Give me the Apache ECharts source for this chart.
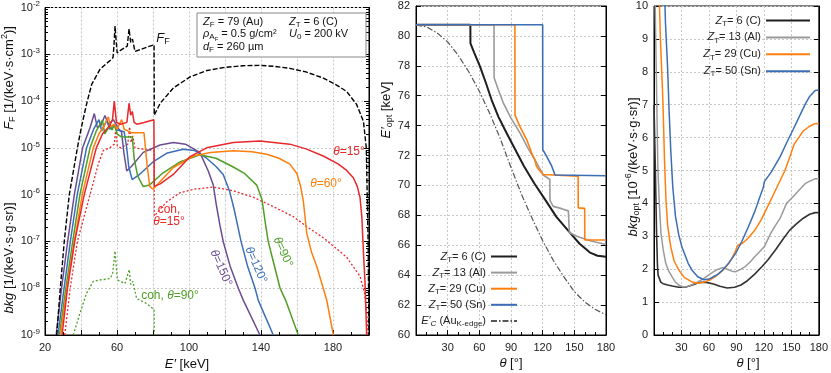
<!DOCTYPE html>
<html><head><meta charset="utf-8">
<script src="https://cdn.jsdelivr.net/npm/echarts@6/dist/echarts.min.js"></script>
<style>html,body{margin:0;padding:0;background:#fff}#c{width:831px;height:373px}</style>
</head><body><div id="c"></div>
<script>
// ---------- Panel 1: spectra [E' keV, value] ----------
const ffSpectrum = [[26.5,1e-9],[28.5,1e-8],[30.7,1e-7],[33.5,1e-6],[38,1e-5],[39.8,2.3e-5],[41.7,5e-5],[43.5,1e-4],[46,2.3e-4],[50.6,4.8e-4],[54,6.3e-4],[56.8,7.7e-4],[57.8,8.5e-4],[58.3,1.5e-3],[58.9,4e-3],[59.5,2e-3],[60.1,1.07e-3],[61.7,1.2e-3],[65.7,1.5e-3],[66.7,3.5e-3],[67.6,1.8e-3],[68.6,2.1e-3],[70,1.15e-3],[78.3,1.5e-3],[80.6,1.6e-3],[80.7,5e-5],[84,9e-5],[91.3,1.9e-4],[100.6,3.3e-4],[110,4.5e-4],[119,5.2e-4],[130,5.7e-4],[139.4,5.8e-4],[148,5.5e-4],[156,5e-4],[165,4.2e-4],[174.6,3.1e-4],[182,2.2e-4],[187.6,1.6e-4],[193.1,8.5e-5],[196.9,3.7e-5],[198.5,1e-5],[199.5,1e-7],[200,1e-9]];
const bkg15 = [[29.5,1e-9],[32.5,1e-8],[36.5,1e-7],[41.8,1e-6],[48.5,1e-5],[52,2e-5],[56,3e-5],[57.5,4e-5],[58.5,1e-4],[59.7,3.5e-5],[62,3.2e-5],[65.5,3.5e-5],[66.7,9e-5],[67.6,5e-5],[68.5,6e-5],[69.5,3.5e-5],[71,3.2e-5],[75,3.5e-5],[80.5,4e-5],[80.7,1.5e-6],[84,1.7e-6],[91.3,2.7e-6],[100.6,6.5e-6],[109.8,1e-5],[124.6,1.3e-5],[139.4,1.4e-5],[156,1.2e-5],[165,9.5e-6],[174.6,6.7e-6],[183,4.5e-6],[187.6,3.3e-6],[191.3,2.3e-6],[193.5,1.5e-6],[195,8.8e-7],[196,3.4e-7],[197,5e-8],[197.8,1.3e-8],[198.7,1e-9]];
const bkg60 = [[28.7,1e-9],[32.2,1e-8],[36.3,1e-7],[40.7,1e-6],[46.8,1e-5],[50,2e-5],[53,3e-5],[55.2,4.6e-5],[56.3,2.8e-5],[58.5,3.2e-5],[60,2.5e-5],[62.6,4e-5],[64,2.5e-5],[66,2.3e-5],[68,2.1e-5],[75,2.1e-5],[75.8,1e-5],[76.8,4e-6],[78.2,1.5e-6],[80,1.3e-6],[84,1.9e-6],[91.3,3.8e-6],[102.4,6.7e-6],[112,8e-6],[124.6,8.7e-6],[135,8.3e-6],[143.2,7.3e-6],[150,6e-6],[156,4.5e-6],[160,2.8e-6],[162,1.5e-6],[163.5,7.4e-7],[165.4,1.5e-7],[168,6e-8],[171,2.9e-8],[176.5,5.6e-9],[180.2,1e-9]];
const bkg90 = [[28,1e-9],[31.6,1e-8],[35.4,1e-7],[39.4,1e-6],[45,1e-5],[48.5,2.3e-5],[51.9,3.9e-5],[53.2,2e-5],[56.1,3e-5],[57.3,2.4e-5],[58.5,3.2e-5],[60,2e-5],[62.6,1.7e-5],[68.5,1.7e-5],[69.5,6e-6],[71.5,2.5e-6],[74.5,1.5e-6],[78,1.6e-6],[85,2.8e-6],[95,5e-6],[106,7.1e-6],[115,6e-6],[124.6,3.9e-6],[131,2.8e-6],[137.6,1.6e-6],[140.5,8e-7],[142.6,2.2e-7],[144,1e-7],[147,3.5e-8],[150.6,1e-8],[153.7,5.5e-9],[160.7,1e-9]];
const bkg120 = [[27.2,1e-9],[30.6,1e-8],[34.1,1e-7],[37.9,1e-6],[43.1,1e-5],[47,2.5e-5],[50,4e-5],[51.5,2.3e-5],[54.3,3.9e-5],[56,2.5e-5],[58.5,3e-5],[60,2.4e-5],[64,2.2e-5],[65.4,1e-5],[66.5,4e-6],[68.4,2.1e-6],[72,2.6e-6],[80,5e-6],[88,7.8e-6],[96.8,9.3e-6],[103,8.8e-6],[109.8,6e-6],[115,4e-6],[119,2.7e-6],[122.5,1.2e-6],[125,5e-7],[127,2.2e-7],[128.9,1e-7],[132.5,3e-8],[136.7,1e-8],[138.5,5.5e-9],[146.8,1e-9]];
const bkg150 = [[26.2,1e-9],[29.2,1e-8],[32.6,1e-7],[36.3,1e-6],[40.9,1e-5],[45,2.7e-5],[47.4,5.4e-5],[49.1,2.7e-5],[51,3e-5],[53.3,4.9e-5],[55.2,3.2e-5],[58,4e-5],[60.7,2.6e-5],[62.5,2.2e-5],[63.8,8e-6],[65.4,3.2e-6],[68,4e-6],[74.6,8e-6],[83.9,1.15e-5],[91.3,1.3e-5],[98,1.2e-5],[106,8e-6],[110.7,3.2e-6],[113.5,1.6e-6],[115.2,6e-7],[117.2,2.2e-7],[119,1e-7],[122.8,3e-8],[127.4,1e-8],[130.2,5.5e-9],[139.4,1e-9]];
const coh15 = [[31,1e-9],[34,1e-8],[38,1e-7],[45,1e-6],[49.6,4.5e-6],[52.4,8.8e-6],[56,1e-5],[58.5,1.2e-5],[59.3,2.5e-5],[60.2,1.1e-5],[62,1e-5],[66,1.2e-5],[67,2.8e-5],[67.8,1.3e-5],[68.8,1.8e-5],[70,1e-5],[75,9.3e-6],[80.6,8.8e-6],[80.7,3.5e-7],[87.6,7e-7],[95,1.1e-6],[102.4,1.3e-6],[113.5,1.45e-6],[125,1.2e-6],[135.7,8.8e-7],[147,5.5e-7],[157.9,3.4e-7],[166,2e-7],[174.6,1.2e-7],[181,7.5e-8],[187.6,4.6e-8],[195,1.8e-8],[197.5,8e-9],[198.7,3e-9],[199.5,1e-9]];
const coh90 = [[35.7,1e-9],[39.4,2.9e-9],[43.1,7.8e-9],[46.8,1.4e-8],[50.6,1.5e-8],[56.1,1.6e-8],[57.5,2e-8],[58.9,6.2e-8],[60.2,1.5e-8],[64.4,1.26e-8],[66.8,2.5e-8],[67.6,1.2e-8],[68.8,1.4e-8],[70.9,6e-9],[76.5,4.7e-9],[80.6,3.5e-9],[80.7,1e-9]];

// ---------- Panel 2: E'opt vs theta ----------
const eoptC  = [[0,80.75],[51.5,80.75],[51.6,79.5],[55,78.9],[60.6,77.96],[66,76.9],[71.6,75.73],[78,74.6],[85.8,73.51],[94,72.4],[102.3,71.29],[112,70.15],[122.2,69.07],[133,67.9],[145.8,66.84],[155,66.1],[164.8,65.51],[172,65.3],[180,65.24]];
const eoptAl = [[0,80.75],[73.9,80.75],[74,77.2],[78,76.4],[82.8,75.5],[90,74.5],[98.6,73.5],[106,72.5],[114.4,71.5],[120.5,70.7],[126.8,70.4],[126.9,69.0],[130,68.6],[138,68.45],[144.3,68.3],[145.2,68.2],[145.3,66.85],[152.3,66.6],[165,66.3],[180,66.05]];
const eoptCu = [[0,80.75],[93.7,80.75],[93.8,74.7],[98,74.0],[104.8,73.07],[110,72.1],[112.5,71.75],[114,71.3],[117,71.0],[120.5,70.73],[122,70.62],[153.6,70.62],[153.7,68.5],[159.8,68.47],[159.9,66.35],[180,66.35]];
const eoptSn = [[0,80.75],[120,80.75],[120.1,72.4],[123.8,71.95],[128.6,71.29],[131.7,70.7],[180,70.65]];
const eComptonEdge = [[0,80.73],[10,80.6],[20,80.2],[30,79.6],[40,78.7],[50,77.6],[60,76.3],[70,74.8],[80,73.1],[90,71.2],[100,69.4],[110,67.8],[120,66.3],[130,65.0],[140,63.9],[150,62.9],[160,62.2],[170,61.7],[180,61.35]];

// ---------- Panel 3: bkg_opt vs theta ----------
const bkgOptC  = [[0,7.0],[1.5,5.0],[2.8,3.1],[3.8,2.1],[4.5,1.82],[6.2,1.78],[7.5,1.6],[10,1.56],[15,1.52],[20,1.49],[27,1.45],[34,1.45],[42,1.52],[50,1.6],[57,1.6],[65,1.55],[72,1.48],[80,1.43],[88,1.45],[95,1.52],[102,1.65],[110,1.85],[118,2.08],[124.3,2.28],[133,2.6],[141.6,2.94],[148,3.18],[155.5,3.38],[163,3.55],[170,3.67],[176,3.72],[180,3.72]];
const bkgOptAl = [[1.0,10.5],[2.5,8],[4.2,5.1],[5.8,4],[7.6,3.1],[10,2.6],[12.8,2.18],[16,1.95],[19.8,1.77],[23,1.62],[26.7,1.52],[31.9,1.46],[36,1.47],[40.6,1.52],[47,1.6],[54.5,1.72],[61,1.85],[68.3,1.98],[75.3,2.05],[80,2.0],[85,1.94],[89.2,1.92],[95,2.0],[99.6,2.08],[105,2.22],[110,2.38],[115,2.52],[120.4,2.68],[127.4,3.09],[132,3.3],[137.8,3.55],[144.7,4.0],[150,4.15],[158.6,4.41],[165,4.6],[169,4.66],[175,4.74],[180,4.76]];
const bkgOptCu = [[5.5,10.5],[7,9],[9.7,7.14],[11.5,5.3],[13.1,4.1],[15,3.3],[18.3,2.68],[22,2.25],[27,1.98],[33,1.75],[40.9,1.62],[47.8,1.57],[54,1.6],[61.7,1.68],[68,1.8],[75.5,1.98],[81,2.15],[86,2.38],[89,2.55],[91.1,2.72],[96.3,2.78],[103,2.95],[110.2,3.19],[117,3.5],[124.1,3.9],[131,4.3],[138,4.71],[143,5.0],[148.4,5.42],[153,5.8],[158.8,6.03],[163,6.2],[169.2,6.33],[175,6.42],[180,6.43]];
const bkgOptSn = [[11.5,10.5],[12.5,9.5],[14.8,8.16],[16.5,6.8],[18.3,5.62],[20.5,4.5],[23.5,3.6],[27,3.05],[30.4,2.68],[37.3,2.18],[42,1.95],[47.8,1.77],[54.5,1.68],[60,1.7],[64.9,1.77],[70,1.85],[75.3,1.98],[82,2.2],[89.2,2.48],[96,2.85],[103.1,3.29],[110,3.75],[115,4.15],[119.5,4.5],[120.5,4.66],[128,4.95],[137.8,5.42],[145,5.85],[151.7,6.23],[158,6.6],[165.6,7.04],[170,7.25],[176,7.43],[180,7.45]];

// legend / tick label texts
const legendNames = {C:'{i|Z}{sb|T}= 6 (C)', Al:'{i|Z}{sb|T}= 13 (Al)', Cu:'{i|Z}{sb|T}= 29 (Cu)', Sn:'{i|Z}{sb|T}= 50 (Sn)', EC:'{i|E′}{sbi|C} (Au{sb|K-edge})'};
const xLabels1 = [20, 60, 100, 140, 180];

const FONT = '"Liberation Sans", Arial, Helvetica, sans-serif';
const COL = {black:'#1e1e1e', gray:'#9a9a9a', orange:'#ff7f0e', blue:'#3b6eb5', green:'#4f9e26', purple:'#6a4c93', red:'#e8282b', dd:'#555'};

function rich(fs){
  const s = Math.round(fs*0.72);
  return {
    i:{fontStyle:'italic', fontSize:fs, fontFamily:FONT},
    sb:{fontSize:s, fontFamily:FONT, padding:[Math.round(fs*0.55),0,0,0]},
    sbi:{fontSize:s, fontStyle:'italic', fontFamily:FONT, padding:[Math.round(fs*0.55),0,0,0]},
    ss:{fontSize:Math.round(fs*0.55), fontFamily:FONT, padding:[Math.round(fs*0.9),0,0,0]},
    sp:{fontSize:s, fontFamily:FONT, padding:[0,0,Math.round(fs*0.6),0]}
  };
}
function T(x,y,text,o){
  o = o||{};
  const fs = o.fs||12;
  return {type:'text', x:x, y:y, rotation:(o.rot||0)*Math.PI/180, z:60, silent:true,
    style:{text:text, fill:o.color||'#111', fontSize:fs, fontFamily:FONT, align:o.align||'center', verticalAlign:o.va||'middle', rich:rich(fs)}};
}

const chart = echarts.init(document.getElementById('c'), null, {renderer:'canvas'});
const gridLine = {show:true, lineStyle:{color:'#c8c8c8', type:[2,2], width:1}};
const axLine = {show:true, onZero:false, lineStyle:{color:'#000', width:1}};
const tick = {show:true, inside:true, length:5, lineStyle:{color:'#000'}};
const lab = {color:'#222', fontSize:11, fontFamily:FONT, margin:7};

function xAx(g,min,max,interval,minorSplit,fmt){
  return {gridIndex:g, type:'value', min:min, max:max, interval:interval, axisLine:axLine, axisTick:tick,
    minorTick:{show:true, splitNumber:minorSplit, length:3, lineStyle:{color:'#000'}},
    splitLine:gridLine, axisLabel:Object.assign({formatter:fmt}, lab)};
}
function yAx(g,min,max,interval,right){
  return {gridIndex:g, type:'value', min:min, max:max, interval:interval, position:right?'right':'left',
    axisLine:axLine, axisTick:tick, splitLine:right?{show:false}:gridLine,
    axisLabel:right?{show:false}:Object.assign({}, lab, {margin:6})};
}
function logAx(right){
  return {gridIndex:0, type:'log', logBase:10, min:1e-9, max:1e-2, splitNumber:7, position:right?'right':'left',
    axisLine:axLine, axisTick:tick, minorTick:{show:true, splitNumber:9, length:3, lineStyle:{color:'#000'}},
    splitLine:right?{show:false}:gridLine,
    axisLabel:right?{show:false}:Object.assign({}, lab, {margin:5, formatter:function(v){return '10{sp|'+Math.round(Math.log10(v))+'}';}, rich:{sp:{fontSize:8, fontFamily:FONT, padding:[0,0,7,0]}}})};
}
function line(name,data,color,xi,yi,o){
  o=o||{};
  return {name:name, type:'line', data:data, xAxisIndex:xi, yAxisIndex:yi, symbol:'none', showSymbol:false,
    lineStyle:{color:color, width:o.w||1.5, type:o.type||'solid'}, itemStyle:{color:color}, z:o.z||3, animation:false, clip:true};
}

const gridOpt = {show:true, borderColor:'#000', borderWidth:1, backgroundColor:'transparent'};
const legendRich = {i:{fontStyle:'italic', fontSize:11, fontFamily:FONT}, sb:{fontSize:8, fontFamily:FONT, padding:[6,0,0,0]}, sbi:{fontSize:8, fontStyle:'italic', fontFamily:FONT, padding:[6,0,0,0]}};

const option = {
  backgroundColor:'#fff',
  animation:false,
  grid:[
    Object.assign({left:45, top:6, width:324, height:329}, gridOpt),
    Object.assign({left:416, top:6, width:190, height:329}, gridOpt),
    Object.assign({left:654, top:6, width:173, height:329}, gridOpt)
  ],
  xAxis:[
    xAx(0,20,200,20,2,function(v){return xLabels1.indexOf(v)>=0? String(v):'';}),
    xAx(1,0,180,30,3,function(v){return v===0?'':String(v);}),
    xAx(2,0,180,30,3,function(v){return v===0?'':String(v);})
  ],
  yAxis:[ logAx(false), logAx(true), yAx(1,60,82,2,false), yAx(1,60,82,2,true), yAx(2,0,10,1,false), yAx(2,0,10,1,true) ],
  legend:[
    {orient:'vertical', right:308, top:246, align:'right', itemWidth:26, itemHeight:10, itemGap:3.6, selectedMode:false,
     itemStyle:{opacity:0},
     data:['C','Al','Cu','Sn','EC'], formatter:function(n){return legendNames[n];},
     textStyle:{fontSize:11, fontFamily:FONT, color:'#222', rich:legendRich}},
    {orient:'vertical', right:15, top:10, align:'right', itemWidth:44, itemHeight:10, itemGap:4.4, selectedMode:false,
     itemStyle:{opacity:0},
     data:['C','Al','Cu','Sn'], formatter:function(n){return legendNames[n];},
     textStyle:{fontSize:11, fontFamily:FONT, color:'#222', rich:legendRich}}
  ],
  series:[
    line('coh90', coh90, COL.green, 0,0,{type:[2,2], w:1.3}),
    line('coh15', coh15, COL.red, 0,0,{type:[2,2], w:1.3}),
    line('t150', bkg150, COL.purple, 0,0),
    line('t120', bkg120, COL.blue, 0,0),
    line('t90', bkg90, COL.green, 0,0),
    line('t60', bkg60, COL.orange, 0,0),
    line('t15', bkg15, COL.red, 0,0),
    line('FF', ffSpectrum, '#000', 0,0,{type:[5,2], w:1.4, z:5}),

    line('EC', eComptonEdge, COL.dd, 1,2,{type:[6,2,1.5,2], w:1.2}),
    line('C', eoptC, COL.black, 1,2,{w:2}),
    line('Al', eoptAl, COL.gray, 1,2,{w:1.6}),
    line('Cu', eoptCu, COL.orange, 1,2,{w:1.6}),
    line('Sn', eoptSn, COL.blue, 1,2,{w:1.6}),

    line('C', bkgOptC, '#333', 2,4,{w:1.6}),
    line('Al', bkgOptAl, COL.gray, 2,4,{w:1.5}),
    line('Cu', bkgOptCu, COL.orange, 2,4,{w:1.5}),
    line('Sn', bkgOptSn, COL.blue, 2,4,{w:1.5})
  ],
  graphic:[
    {type:'rect', shape:{x:197, y:13, width:169, height:44}, style:{fill:'#fff', stroke:'#888', lineWidth:1}, z:55, silent:true},
    T(203,22,'{i|Z}{sb|F} = 79 (Au)',{align:'left', fs:11}),
    T(289,22,'{i|Z}{sb|T} = 6 (C)',{align:'left', fs:11}),
    T(203,34,'{i|ρ}{sb|A}{ss|F} = 0.5 g/cm²',{align:'left', fs:11}),
    T(289,34,'{i|U}{sb|0} = 200 kV',{align:'left', fs:11}),
    T(203,47,'{i|d}{sb|F} = 260 µm',{align:'left', fs:11}),
    T(163,38,'{i|F}{sb|F}',{fs:13}),
    T(349,152,'{i|θ}=15°',{fs:12, color:COL.red}),
    T(326,184,'{i|θ}=60°',{fs:12, color:COL.orange}),
    T(169,210,'coh,',{fs:12, color:COL.red}),
    T(169,222,'{i|θ}=15°',{fs:12, color:COL.red}),
    T(170,296,'coh, {i|θ}=90°',{fs:12, color:COL.green}),
    T(221,268,'{i|θ}=150°',{fs:12, color:COL.purple, rot:-66}),
    T(256,265,'{i|θ}=120°',{fs:12, color:COL.blue, rot:-66}),
    T(283,252,'{i|θ}=90°',{fs:12, color:COL.green, rot:-66}),
    T(9,78,'{i|F}{sb|F} [1/(keV·s·cm{sp|2})]',{fs:13, rot:90}),
    T(9,258,'{i|bkg} [1/(keV·s·g·sr)]',{fs:13, rot:90}),
    T(187,364,'{i|E′} [keV]',{fs:13}),
    T(386,110,'{i|E′}{sb|opt} [keV]',{fs:13, rot:90}),
    T(511,363,'{i|θ} [°]',{fs:13}),
    T(633,167,'{i|bkg}{sb|opt} [10{sp|-6}/(keV·s·g·sr)]',{fs:13, rot:90}),
    T(748,363,'{i|θ} [°]',{fs:13})
  ]
};
chart.setOption(option);
</script></body></html>
